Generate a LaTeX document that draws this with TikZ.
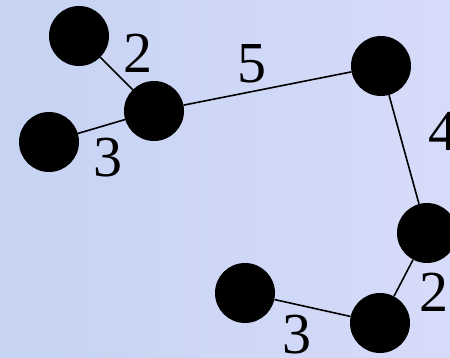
\documentclass[tikz,border=0pt]{standalone}
\usepackage{fontspec}
\setmainfont{Liberation Serif}
\definecolor{bgleft}{RGB}{198,211,243}
\definecolor{bgright}{RGB}{214,219,249}
\tikzset{
  vertex/.style={circle,fill=black,minimum size=60pt,inner sep=0pt},
  weight/.style={font=\rmfamily\fontsize{58}{62}\selectfont,inner sep=0pt},
  edge/.style={line width=1.6pt}
}
\begin{document}
\begin{tikzpicture}[x=1pt,y=-1pt]
\clip (0,0) rectangle (450,358);
\shade[left color=bgleft,right color=bgright] (0,0) rectangle (450,358);
% vertices
\node[vertex] (a) at (79,36) {};
\node[vertex] (b) at (154,111) {};
\node[vertex] (c) at (49,142) {};
\node[vertex] (d) at (381,66) {};
\node[vertex] (e) at (427,233) {};
\node[vertex] (f) at (245,293) {};
\node[vertex] (g) at (380,323) {};
% edges
\draw[edge] (a) -- (b);
\draw[edge] (c) -- (b);
\draw[edge] (b) -- (d);
\draw[edge] (d) -- (e);
\draw[edge] (e) -- (g);
\draw[edge] (f) -- (g);
% weights
\node[weight] (wab) at (138,53) {2};
\node[weight] (wcb) at (108,158) {3};
\node[weight] (wbd) at (252,64) {5};
\node[weight] (wde) at (443,131) {4};
\node[weight] (weg) at (434,292) {2};
\node[weight] (wfg) at (297,335) {3};
\end{tikzpicture}
\end{document}
